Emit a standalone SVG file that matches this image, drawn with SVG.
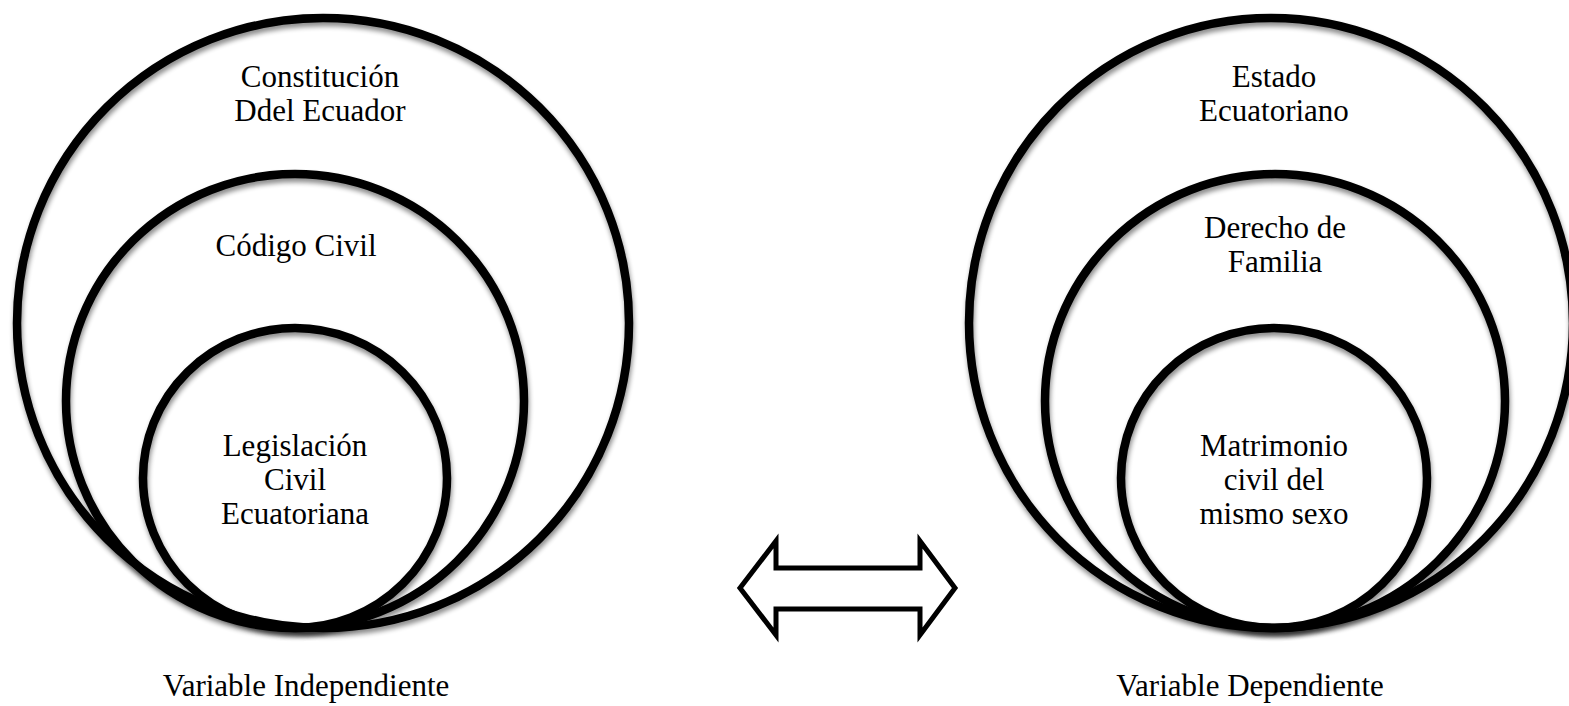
<svg xmlns="http://www.w3.org/2000/svg" width="1569" height="706" viewBox="0 0 1569 706">
<defs>
<filter id="sh" x="-5%" y="-5%" width="110%" height="115%">
<feGaussianBlur in="SourceAlpha" stdDeviation="2.5"/>
<feOffset dx="1" dy="4" result="b"/>
<feComponentTransfer><feFuncA type="linear" slope="0.45"/></feComponentTransfer>
<feMerge><feMergeNode/><feMergeNode in="SourceGraphic"/></feMerge>
</filter>
</defs>
<style>
.c{fill:none;stroke:#000;stroke-width:8.5;filter:url(#sh)}
.t{font-family:"Liberation Serif","Times New Roman",serif;font-size:31px;fill:#000;text-anchor:middle}
.a{fill:#fff;stroke:#000;stroke-width:5;stroke-linejoin:miter}
</style>
<rect width="1569" height="706" fill="#fff"/>
<g id="left-outer"><ellipse class="c" cx="323" cy="323" rx="306" ry="305"/>
<text class="t" x="320" y="87">Constitución</text><text class="t" x="320" y="121">Ddel Ecuador</text></g>
<g id="left-middle"><ellipse class="c" cx="295" cy="401" rx="229" ry="227"/>
<text class="t" x="296" y="256">Código Civil</text></g>
<g id="left-inner"><ellipse class="c" cx="295" cy="478" rx="152" ry="150"/>
<text class="t" x="295" y="456">Legislación</text><text class="t" x="295" y="490">Civil</text><text class="t" x="295" y="524">Ecuatoriana</text></g>
<g id="right-outer"><ellipse class="c" cx="1271" cy="323" rx="302" ry="305"/>
<text class="t" x="1274" y="87">Estado</text><text class="t" x="1274" y="121">Ecuatoriano</text></g>
<g id="right-middle"><ellipse class="c" cx="1275" cy="401" rx="230" ry="227"/>
<text class="t" x="1275" y="238">Derecho de</text><text class="t" x="1275" y="272">Familia</text></g>
<g id="right-inner"><ellipse class="c" cx="1274" cy="478" rx="153" ry="150"/>
<text class="t" x="1274" y="456">Matrimonio</text><text class="t" x="1274" y="490">civil del</text><text class="t" x="1274" y="524">mismo sexo</text></g>
<g id="label-left"><text class="t" x="306" y="696">Variable Independiente</text></g>
<g id="label-right"><text class="t" x="1250" y="696">Variable Dependiente</text></g>
<g id="connectors">
<path class="a" d="M740,588 L776,541 L776,568 L920,568 L920,541 L955,588 L920,635 L920,609 L776,609 L776,635 Z"/>
</g>
</svg>
